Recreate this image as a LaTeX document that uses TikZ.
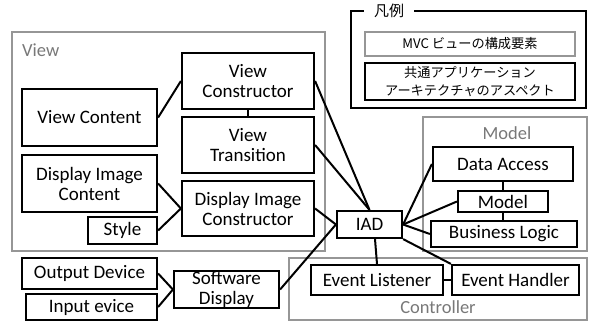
\documentclass[tikz,border=0pt]{standalone}
\usepackage{fontspec}
\setmainfont{Carlito}
\newfontfamily\jpfont{Noto Sans CJK JP}
\usetikzlibrary{calc}

\definecolor{grpline}{RGB}{150,150,150}
\definecolor{grptext}{RGB}{120,120,120}

\begin{document}
\begin{tikzpicture}[x=1pt,y=-1pt,
  box/.style={draw=black,line width=2.2pt,fill=white,inner sep=0pt,align=center,
    font=\fontsize{19}{20}\selectfont},
  group/.style={draw=grpline,line width=2pt,inner sep=0pt},
  grouplabel/.style={text=grptext,font=\fontsize{18.5}{20}\selectfont,inner sep=0pt},
  jpbox/.style={box,font=\jpfont\fontsize{13.2}{18}\selectfont},
  conn/.style={line width=2pt,black}]
\useasboundingbox (0,0) rectangle (589,322);

% layer groups
\node[group,minimum width=313,minimum height=219] (gview) at (168.5,141.5) {};
\node[group,minimum width=164,minimum height=134] (gmodel) at (505,184) {};
\node[group,minimum width=298,minimum height=62] (gctrl) at (438,289) {};
\node[grouplabel,anchor=west] (lview) at (22,50) {View};
\node[grouplabel] (lmodel) at (507,133) {Model};
\node[grouplabel] (lctrl) at (438,307) {Controller};

% legend
\node[box,minimum width=235,minimum height=97] (legend) at (468.5,59.5) {};
\node[fill=white,inner xsep=10pt,inner ysep=1pt,font=\jpfont\fontsize{15}{16}\selectfont] (legtitle) at (389,11) {凡例};
\node[jpbox,draw=grpline,minimum width=210,minimum height=24] (leg1) at (470,44) {MVC ビューの構成要素};
\node[jpbox,minimum width=210,minimum height=37] (leg2) at (470,81.5) {共通アプリケーション\\アーキテクチャのアスペクト};

% view elements
\node[box,minimum width=132,minimum height=56] (vcons) at (248,81) {View\\Constructor};
\node[box,minimum width=132,minimum height=56] (vtrans) at (248,145) {View\\Transition};
\node[box,minimum width=135,minimum height=57] (vcont) at (89.5,117.5) {View Content};
\node[box,minimum width=135,minimum height=57] (dicont) at (89.5,183.5) {Display Image\\Content};
\node[box,minimum width=69,minimum height=27] (style) at (122.5,230.5) {Style};
\node[box,minimum width=132,minimum height=55] (dicons) at (248,208.5) {Display Image\\Constructor};

% devices
\node[box,minimum width=135,minimum height=31] (outdev) at (89.5,273.5) {Output Device};
\node[box,minimum width=131,minimum height=26] (indev) at (91.5,307) {Input evice};
\node[box,minimum width=105,minimum height=37] (swdisp) at (226.5,289.5) {Software\\Display};

% central node, model and controller elements
\node[box,minimum width=65,minimum height=27] (iad) at (369.5,224.5) {IAD};
\node[box,minimum width=140,minimum height=34] (daccess) at (503,164) {Data Access};
\node[box,minimum width=90,minimum height=21] (model) at (503,201.5) {Model};
\node[box,minimum width=146,minimum height=26] (blogic) at (504,234) {Business Logic};
\node[box,minimum width=132,minimum height=30] (elist) at (377,280) {Event Listener};
\node[box,minimum width=127,minimum height=30] (ehand) at (515.5,280) {Event Handler};

% connectors
\draw[conn] (vcont.east) -- (vcons.west);
\draw[conn] (vcons.south) -- (vtrans.north);
\draw[conn] (dicont.east) -- (dicons.west);
\draw[conn] (style.east) -- (dicons.west);
\draw[conn] (vcons.east) -- (iad.north);
\draw[conn] (vtrans.east) -- (iad.north);
\draw[conn] (dicons.east) -- (iad.west);
\draw[conn] (swdisp.east) -- (iad.west);
\draw[conn] (outdev.east) -- (swdisp.west);
\draw[conn] (indev.east) -- (swdisp.west);
\draw[conn] (iad.east) -- (daccess.west);
\draw[conn] (iad.east) -- (model.west);
\draw[conn] (iad.east) -- (blogic.west);
\draw[conn] (daccess.south) -- (model.north);
\draw[conn] (model.south) -- (model.south |- blogic.north);
\draw[conn] ($(iad.south)+(5.5,0)$) -- (elist.north);
\draw[conn] (iad.south east) -- (ehand.north west);
\draw[conn] (elist.east) -- (ehand.west);
\end{tikzpicture}
\end{document}
